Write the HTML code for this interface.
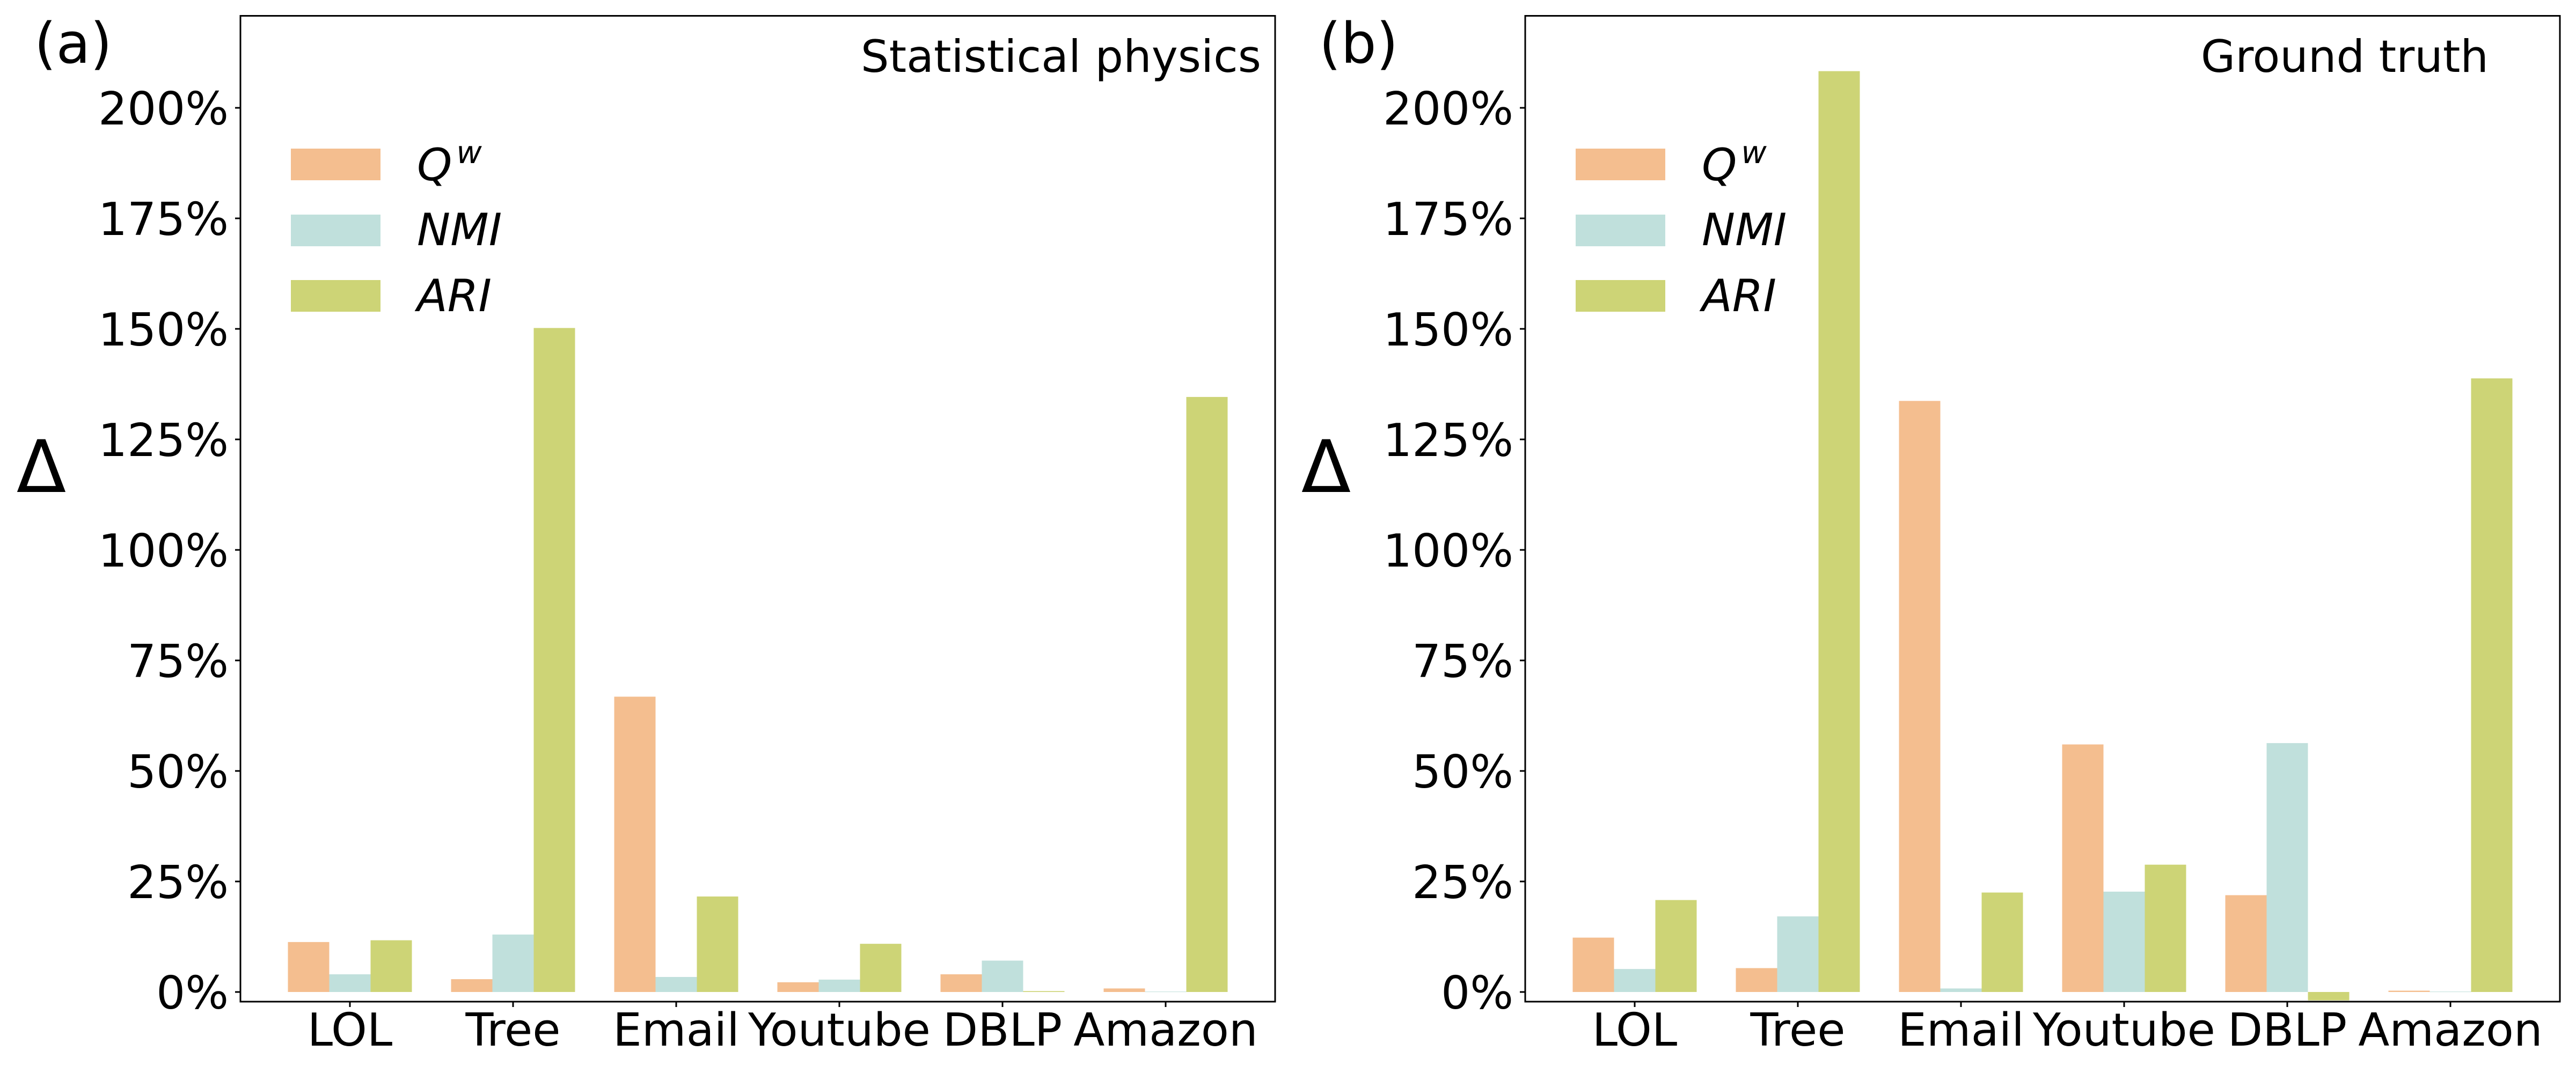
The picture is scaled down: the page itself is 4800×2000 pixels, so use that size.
<!DOCTYPE html>
<html><head><meta charset="utf-8">
<style>
html,body{margin:0;padding:0;background:#fff;}
svg{display:block;font-family:"DejaVu Sans","Liberation Sans",sans-serif;}
</style></head>
<body>
<svg id="chart" width="4800" height="2000" viewBox="0 0 4800 2000" xmlns="http://www.w3.org/2000/svg">
<rect x="0" y="0" width="4800" height="2000" fill="#fff"/>
</svg>
<script>
const categories = ["LOL","Tree","Email","Youtube","DBLP","Amazon"];
const seriesNames = ["Q","NMI","ARI"];
const panelA_Q   = [11.3, 2.9, 66.8, 2.2, 4.0, 0.8];
const panelA_NMI = [4.0, 13.0, 3.4, 2.8, 7.1, 0.1];
const panelA_ARI = [11.7, 150.2, 21.6, 10.9, 0.2, 134.6];
const panelB_Q   = [12.3, 5.4, 133.7, 56.0, 21.9, 0.3];
const panelB_NMI = [5.2, 17.1, 0.8, 22.7, 56.3, 0.1];
const panelB_ARI = [20.8, 208.3, 22.5, 28.8, -1.9, 138.8];
const yTicks = [0, 25, 50, 75, 100, 125, 150, 175, 200];
const yTickLabels = ["0%","25%","50%","75%","100%","125%","150%","175%","200%"];
const colors = ["#f4be8f","#c0e0dc","#cdd476"];

const NS = "http://www.w3.org/2000/svg";
const svg = document.getElementById("chart");
function mk(tag, attrs, parent){
  const e = document.createElementNS(NS, tag);
  for (const k in attrs) e.setAttribute(k, attrs[k]);
  (parent||svg).appendChild(e);
  return e;
}

function drawPanel(offX, series, letter, title, titleRight, key){
  const left = 448 + offX, right = 2376 + offX, top = 29.5, bottom = 1867;
  const zeroY = 1849, perPct = 8.24;
  const yS = v => zeroY - v * perPct;
  const xC = i => left + 204 + i * 304;
  const bw = 77;
  const g = mk("g", {});
  
  

  series.forEach((vals, s) => {
    vals.forEach((v, i) => {
      const x = xC(i) + (s - 1) * bw - bw / 2;
      const y0 = yS(Math.max(v, 0)), y1 = yS(Math.min(v, 0));
      const r = mk("rect", {x: x, y: y0, width: bw, height: Math.max(y1 - y0, 1), fill: colors[s]}, g);
      
      
    });
  });

  const fr = mk("rect", {x: left, y: top, width: right - left, height: bottom - top, fill: "none", stroke: "#000", "stroke-width": 3}, g);
  
  

  yTicks.forEach((t, k) => {
    const y = yS(t);
    mk("line", {x1: left - 10, x2: left, y1: y, y2: y, stroke: "#000", "stroke-width": 3}, g);
    const tx = mk("text", {x: left - 22, y: y + 31, "text-anchor": "end", "font-size": 85, fill: "#000"}, g);
    tx.textContent = yTickLabels[k];
    
    
  });

  categories.forEach((c, i) => {
    const x = xC(i);
    mk("line", {x1: x, x2: x, y1: bottom, y2: bottom + 10, stroke: "#000", "stroke-width": 3}, g);
    const tx = mk("text", {x: x, y: 1949, "text-anchor": "middle", "font-size": 85, fill: "#000"}, g);
    tx.textContent = c;
    
    
  });

  const yl = mk("text", {x: 77 + offX, y: 917, "text-anchor": "middle", "font-size": 135, fill: "#000"}, g);
  yl.textContent = "Δ";
  
  

  const pl = mk("text", {x: 64 + offX, y: 117, "font-size": 104, fill: "#000"}, g);
  pl.textContent = letter;
  
  

  const tt = mk("text", {x: titleRight, y: 134, "text-anchor": "end", "font-size": 83, fill: "#000"}, g);
  tt.textContent = title;
  
  

  const lg = mk("g", {}, g);
  
  
  const rowsY = [277, 400, 522];
  const baseY = [336, 457, 580];
  rowsY.forEach((ry, s) => {
    const pr = mk("rect", {x: 542 + offX, y: ry, width: 167, height: 59, fill: colors[s]}, lg);
    
    
    const t = mk("text", {x: 777 + offX, y: baseY[s], "font-size": 83, "font-style": "italic", fill: "#000"}, lg);
    
    
    if (s === 0) {
      t.textContent = "Q";
      const sup = mk("tspan", {dx: 8, dy: -32, "font-size": 58}, t);
      sup.textContent = "w";
    } else {
      t.textContent = seriesNames[s];
    }
  });
}

drawPanel(0, [panelA_Q, panelA_NMI, panelA_ARI], "(a)", "Statistical physics", 2350, "a");
drawPanel(2394, [panelB_Q, panelB_NMI, panelB_ARI], "(b)", "Ground truth", 4637, "b");
</script>
</body></html>
